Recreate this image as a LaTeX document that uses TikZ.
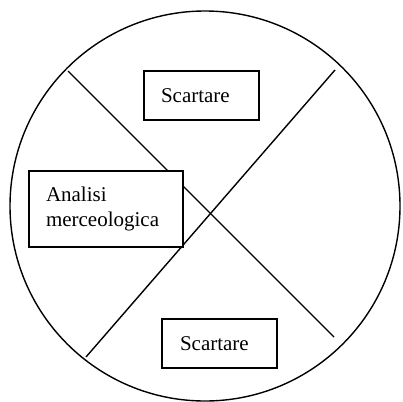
\documentclass[tikz,border=0pt]{standalone}
\usepackage{fontspec}
\setmainfont{Liberation Serif}
\begin{document}
\begin{tikzpicture}[x=1pt,y=-1pt,
  outline/.style={line width=1.4pt, draw=black},
  labelbox/.style={outline, fill=white, rectangle, align=left, inner ysep=0pt,
     font=\fontsize{21}{25}\selectfont}]
\useasboundingbox (0,0) rectangle (403,401);
\fill[white] (0,0) rectangle (403,401);
\coordinate (ctr) at (205,206);
\draw[outline] (ctr) circle[radius=195];
\coordinate (a1) at (68,71);
\coordinate (a2) at (334,337);
\coordinate (b1) at (86,357);
\coordinate (b2) at (335,70);
\draw[outline] (a1) -- (a2);
\draw[outline] (b1) -- (b2);
\node[labelbox, inner xsep=17pt, text width=81pt, minimum height=49pt] (top) at (201.5,95.5) {Scartare};
\node[labelbox, inner xsep=17pt, text width=120pt, minimum height=76pt] (left) at (106,209) {Analisi\\merceologica};
\node[labelbox, inner xsep=18pt, text width=79pt, minimum height=49pt] (bottom) at (219.5,343.5) {Scartare};
\end{tikzpicture}
\end{document}
